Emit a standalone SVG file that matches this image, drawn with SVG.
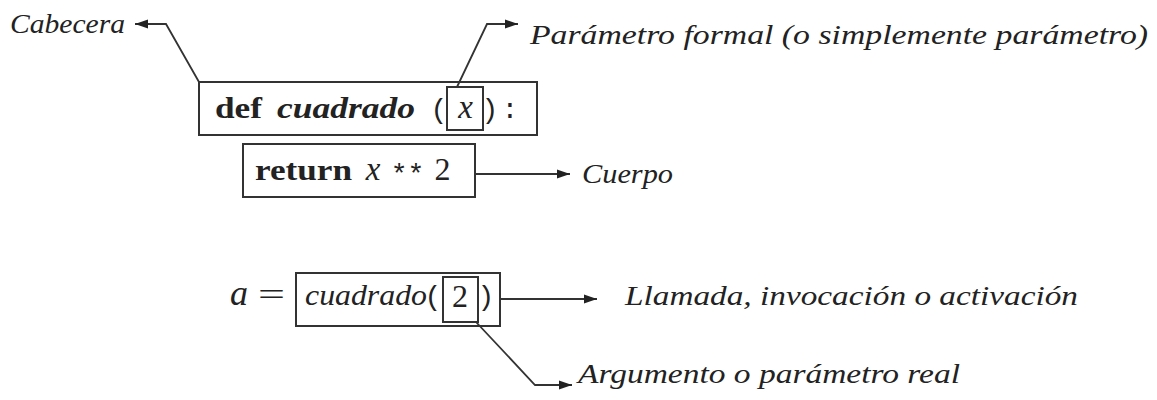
<svg xmlns="http://www.w3.org/2000/svg" width="1157" height="400" viewBox="0 0 1157 400">
<style>
.lbl{font-family:"Liberation Serif","Times New Roman",Times,"Noto Serif",serif;font-style:italic;font-size:28px;fill:#222}
.code{font-family:"Liberation Serif","Times New Roman",Times,"Noto Serif",serif;font-size:30px;fill:#222}
.b{font-weight:bold}
.i{font-style:italic}
.tt{font-family:"Liberation Mono","Courier New",monospace;font-size:28px;fill:#222}
.box{fill:none;stroke:#333;stroke-width:2}
.con{fill:none;stroke:#333;stroke-width:1.8}
.mid{text-anchor:middle}
</style>
<defs>
<marker id="ah" markerWidth="14" markerHeight="10" refX="13" refY="5" orient="auto" markerUnits="userSpaceOnUse">
<path d="M0,0.5 L13,5 L0,9.5 z" fill="#222"/>
</marker>
</defs>
<rect width="1157" height="400" fill="#fff"/>

<g id="node-def">
<rect class="box" x="199" y="82" width="338" height="53"/>
<text class="code b" x="215" y="118" textLength="47" lengthAdjust="spacingAndGlyphs">def</text>
<text class="code b i" x="277" y="118" textLength="138" lengthAdjust="spacingAndGlyphs">cuadrado</text>
<text class="tt mid" x="439" y="118">(</text>
<text class="tt mid" x="490" y="118">)</text>
<text class="tt mid" x="510" y="118">:</text>
</g>
<g id="node-param-x">
<rect class="box" x="447" y="87" width="36" height="43"/>
<text class="code i mid" x="465.5" y="118" style="font-size:33px">x</text>
</g>
<g id="node-return">
<rect class="box" x="243" y="144" width="232" height="53"/>
<text class="code b" x="255" y="180" textLength="97" lengthAdjust="spacingAndGlyphs">return</text>
<text class="code i mid" x="373" y="180" style="font-size:33px">x</text>
<text class="tt mid" x="407.5" y="183">**</text>
<text class="code mid" x="442.5" y="180" style="font-size:32px">2</text>
</g>
<g id="node-call">
<text class="code i mid" x="239" y="305" style="font-size:36px">a</text>
<text class="code" x="258" y="305" style="font-size:32px" textLength="27" lengthAdjust="spacingAndGlyphs">=</text>
<rect class="box" x="296" y="273" width="204" height="53"/>
<text class="code i" x="305" y="305" textLength="122" lengthAdjust="spacingAndGlyphs">cuadrado</text>
<text class="tt mid" x="433" y="305">(</text>
<text class="tt mid" x="486" y="305">)</text>
</g>
<g id="node-arg-2">
<rect class="box" x="443" y="277" width="35" height="45"/>
<text class="code mid" x="460" y="307" style="font-size:32px">2</text>
</g>

<g id="label-cabecera"><text class="lbl" x="10" y="33" textLength="115" lengthAdjust="spacingAndGlyphs">Cabecera</text></g>
<g id="label-parametro"><text class="lbl" x="530" y="44" textLength="618" lengthAdjust="spacingAndGlyphs">Parámetro formal (o simplemente parámetro)</text></g>
<g id="label-cuerpo"><text class="lbl" x="582" y="183" textLength="91" lengthAdjust="spacingAndGlyphs">Cuerpo</text></g>
<g id="label-llamada"><text class="lbl" x="625" y="305" textLength="453" lengthAdjust="spacingAndGlyphs">Llamada, invocación o activación</text></g>
<g id="label-argumento"><text class="lbl" x="578" y="383" textLength="382" lengthAdjust="spacingAndGlyphs">Argumento o parámetro real</text></g>

<g id="connectors">
<polyline class="con" points="199,82 166,24 135,24" marker-end="url(#ah)"/>
<polyline class="con" points="457,87 487,24 518,24" marker-end="url(#ah)"/>
<polyline class="con" points="475,174 570,174" marker-end="url(#ah)"/>
<polyline class="con" points="500,299 597,299" marker-end="url(#ah)"/>
<polyline class="con" points="476,322 535,385 572,385" marker-end="url(#ah)"/>
</g>
</svg>
